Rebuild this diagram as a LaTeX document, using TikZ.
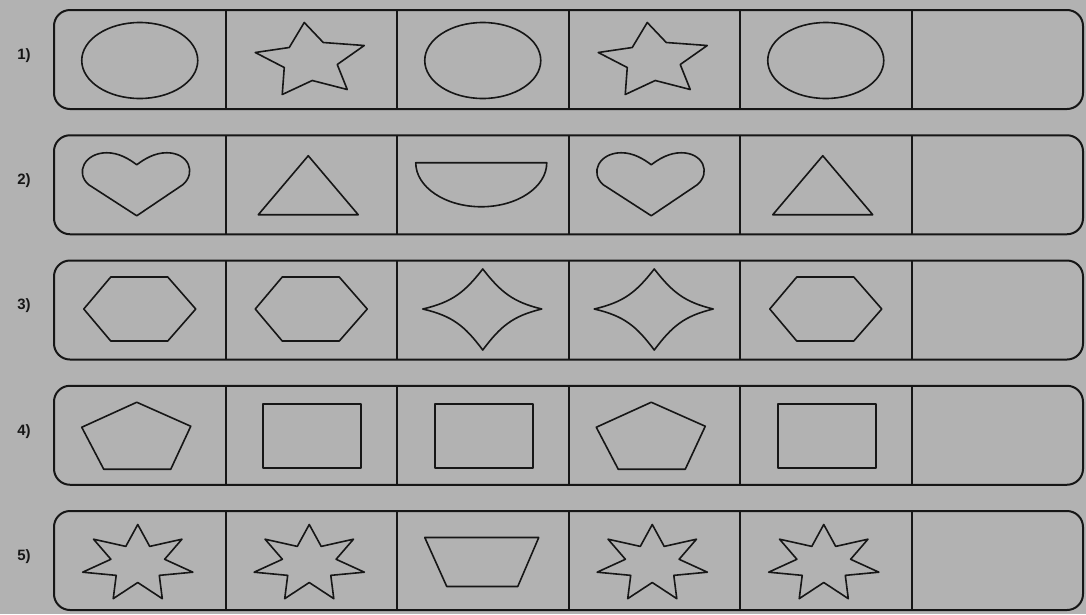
\documentclass[tikz,border=0pt]{standalone}
\usepackage{fontspec}
\setmainfont{Liberation Sans}
\definecolor{bggray}{RGB}{178,178,178}
\definecolor{ink}{RGB}{22,22,22}
\tikzset{
  cellrow/.style={draw=ink, line width=2pt, rounded corners=16pt},
  cellrule/.style={draw=ink, line width=2pt},
  figline/.style={draw=ink, line width=1.6pt, line join=round},
  rowlabel/.style={font=\fontsize{15}{15}\selectfont\bfseries, text=ink},
  pics/oval/.style={code={\draw[figline] (0,1) ellipse[x radius=58, y radius=38];}},
  pics/starfive/.style={code={\draw[figline] (-7,-37) -- (12,-17) -- (53,-14) -- (26,5) -- (36,30) -- (1,21) -- (-29,35) -- (-27,8) -- (-56,-7) -- (-22,-12) -- cycle;}},
  pics/heart/.style={code={\draw[figline] (-3,31) -- (-51,0) .. controls (-65,-12) and (-55,-32) .. (-33,-32) .. controls (-21,-32) and (-11,-26) .. (-3,-20) .. controls (5,-26) and (15,-32) .. (27,-32) .. controls (49,-32) and (57,-12) .. (43,0) -- cycle;}},
  pics/tri/.style={code={\draw[figline] (-3,-29) -- (-53,30) -- (47,30) -- cycle;}},
  pics/halfdisc/.style={code={\draw[figline] (-67,-22) -- (64,-22) arc[start angle=0, end angle=180, x radius=65.5, y radius=44] -- cycle;}},
  pics/hexa/.style={code={\draw[figline] (-29,-33) -- (28,-33) -- (56,-1) -- (28,31) -- (-29,31) -- (-56,-1) -- cycle;}},
  pics/starfour/.style={code={\draw[figline] (0,-41) .. controls (-18,-18) and (-30,-8) .. (-60,-1) .. controls (-30,6) and (-18,16) .. (0,40) .. controls (18,16) and (30,6) .. (59,-1) .. controls (30,-8) and (18,-18) .. cycle;}},
  pics/penta/.style={code={\draw[figline] (-3,-33) -- (51,-9) -- (31,34) -- (-36,34) -- (-58,-8) -- cycle;}},
  pics/rect/.style={code={\draw[figline, line width=2pt] (-48,-31) rectangle (50,33);}},
  pics/starseven/.style={code={\draw[figline, shift={(-2,3)}, xscale=1.45] (270:39) \foreach \a in {0,...,6} { -- ({270+\a*360/7+180/7}:19) -- ({270+(\a+1)*360/7}:39) } -- cycle;}},
  pics/trap/.style={code={\draw[figline] (-58,-23) -- (56,-23) -- (35,26) -- (-36,26) -- cycle;}}
}
\begin{document}
\begin{tikzpicture}[x=1pt, y=-1pt]
\fill[bggray] (0,0) rectangle (1086,614);
\useasboundingbox (0,0) rectangle (1086,614);
\foreach \shps [count=\r] in {{oval,starfive,oval,starfive,oval},{heart,tri,halfdisc,heart,tri},{hexa,hexa,starfour,starfour,hexa},{penta,rect,rect,penta,rect},{starseven,starseven,trap,starseven,starseven}}{
  \pgfmathsetmacro\yc{59.5+125.25*(\r-1)}
  \node[rowlabel] (lab\r) at (24,\yc-4) {\r)};
  \draw[cellrow] (54,\yc-49.5) rectangle (1083,\yc+49.5);
  \foreach \k in {1,...,5}
    \draw[cellrule] ({54+171.5*\k},\yc-49.5) -- ({54+171.5*\k},\yc+49.5);
  \foreach \shp [count=\c] in \shps
    \pic at ({171.5*\c-31.75},\yc) {\shp};
}
\end{tikzpicture}
\end{document}
